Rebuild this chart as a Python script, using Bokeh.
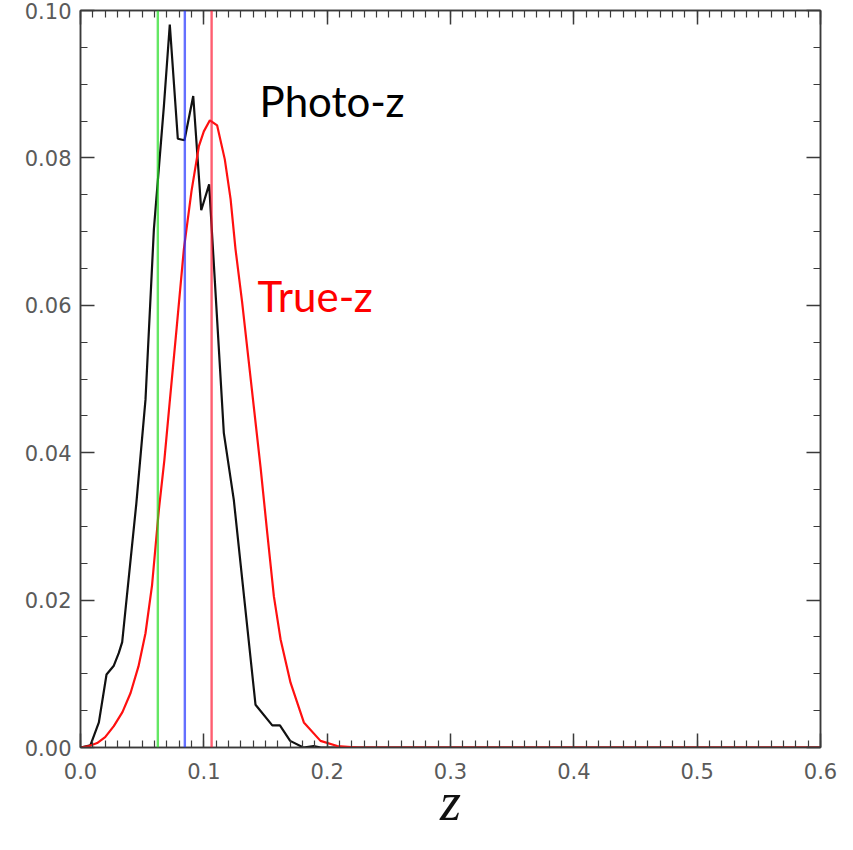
from bokeh.plotting import figure
from bokeh.models import (Span, LinearAxis, FixedTicker, PrintfTickFormatter, Range1d,
                          CustomJSTickFormatter)
from bokeh.core.properties import value
from bokeh.embed import file_html
from bokeh.resources import INLINE

# ---- data ----
photo_z = [0.000, 0.008, 0.0149, 0.0211, 0.027, 0.031, 0.0338, 0.0452, 0.0527, 0.0595, 0.0676,
           0.0724, 0.0789, 0.0843, 0.0914, 0.0979, 0.1043, 0.1162, 0.1243, 0.1419, 0.1555,
           0.1617, 0.170, 0.1807, 0.189, 0.195, 0.6]
photo_p = [0.0, 0.0003, 0.0034, 0.0099, 0.0111, 0.0128, 0.0143, 0.033, 0.0472, 0.0703, 0.087,
           0.0981, 0.0826, 0.0824, 0.0884, 0.0729, 0.0764, 0.0427, 0.0336, 0.0058, 0.003,
           0.003, 0.0009, 0.0, 0.0002, 0.0, 0.0]

true_z = [0.0, 0.007, 0.0135, 0.02, 0.027, 0.034, 0.0406, 0.047, 0.0527, 0.058, 0.0635, 0.068,
          0.0724, 0.078, 0.0838, 0.090, 0.096, 0.100, 0.1049, 0.1108, 0.1170, 0.1217, 0.1257,
          0.131, 0.136, 0.141, 0.146, 0.1515, 0.1568, 0.1622, 0.1703, 0.1811, 0.1946, 0.2082,
          0.225, 0.6]
true_p = [0.0, 0.0002, 0.0006, 0.0014, 0.0029, 0.0048, 0.0074, 0.011, 0.0155, 0.022, 0.0322, 0.039,
          0.047, 0.057, 0.0676, 0.0755, 0.0816, 0.0836, 0.0851, 0.0844, 0.0798, 0.0744, 0.0676,
          0.0605, 0.053, 0.0455, 0.038, 0.029, 0.0205, 0.0147, 0.0088, 0.0034, 0.0009, 0.0002,
          0.0, 0.0]

markers_z = [0.0627, 0.0846, 0.1063]          # green, blue, red verticals
marker_colors = ["#22dd22", "#2233ff", "#ff1a33"]

x_ticks = [0.0, 0.1, 0.2, 0.3, 0.4, 0.5, 0.6]
y_ticks = [0.00, 0.02, 0.04, 0.06, 0.08, 0.10]
x_minor = [i / 100 for i in range(61)]
y_minor = [i / 200 for i in range(21)]

AX = "#3a3a3a"
LBL = "#5a5a5a"

p = figure(width=837, height=834, x_range=Range1d(0, 0.6), y_range=Range1d(0, 0.1),
           output_backend="svg", toolbar_location=None,
           x_axis_type=None, y_axis_type=None,
           min_border_left=80, min_border_right=17, min_border_top=10, min_border_bottom=86)
p.outline_line_color = AX
p.outline_line_width = 1.5
p.background_fill_color = "white"
p.border_fill_color = "white"


def style(ax, labels=True, standoff=9):
    ax.axis_line_color = AX
    ax.axis_line_width = 1.5
    ax.major_tick_line_color = AX
    ax.minor_tick_line_color = AX
    ax.major_tick_line_width = 1.5
    ax.minor_tick_line_width = 1.2
    ax.major_tick_in = 14
    ax.major_tick_out = 0
    ax.minor_tick_in = 7
    ax.minor_tick_out = 0
    if labels:
        ax.major_label_text_font = "DejaVu Sans"
        ax.major_label_text_font_size = "21px"
        ax.major_label_text_color = LBL
        ax.major_label_standoff = standoff
    else:
        ax.major_label_text_font_size = "1px"
        ax.major_label_text_alpha = 0
        ax.major_label_standoff = 0


xb = LinearAxis(ticker=FixedTicker(ticks=x_ticks, minor_ticks=x_minor),
                formatter=PrintfTickFormatter(format="%.1f"))
style(xb, True, 15)
xb.axis_label = "z"
xb.axis_label_text_font = "Liberation Serif"
xb.axis_label_text_font_style = "italic"
xb.axis_label_text_font_size = "54px"
xb.axis_label_text_color = "#111111"
xb.axis_label_standoff = -10
p.add_layout(xb, "below")

xt = LinearAxis(ticker=FixedTicker(ticks=x_ticks, minor_ticks=x_minor),
                formatter=CustomJSTickFormatter(code="return ''"))
style(xt, False)
p.add_layout(xt, "above")

yl = LinearAxis(ticker=FixedTicker(ticks=y_ticks, minor_ticks=y_minor),
                formatter=PrintfTickFormatter(format="%.2f"))
style(yl, True, 9)
p.add_layout(yl, "left")

yr = LinearAxis(ticker=FixedTicker(ticks=y_ticks, minor_ticks=y_minor),
                formatter=CustomJSTickFormatter(code="return ''"))
style(yr, False)
p.add_layout(yr, "right")

# curves
p.line(photo_z, photo_p, line_color="#111111", line_width=2.2)
p.line(true_z, true_p, line_color="#ff1010", line_width=2.2)

for zc, col in zip(markers_z, marker_colors):
    p.add_layout(Span(location=zc, dimension="height", line_color=col, line_width=2.4, line_alpha=0.7))

p.text(x=[0.1452], y=[0.0877], text=["Photo-z"], text_font=value("Lato"), text_font_size="42px",
       text_color="black", text_baseline="alphabetic", text_align="left")
p.text(x=[0.1436], y=[0.0612], text=["True-z"], text_font=value("Lato"), text_font_size="42px",
       text_color="#ff0000", text_baseline="alphabetic", text_align="left")

open("out.html", "w").write(file_html(p, INLINE))
